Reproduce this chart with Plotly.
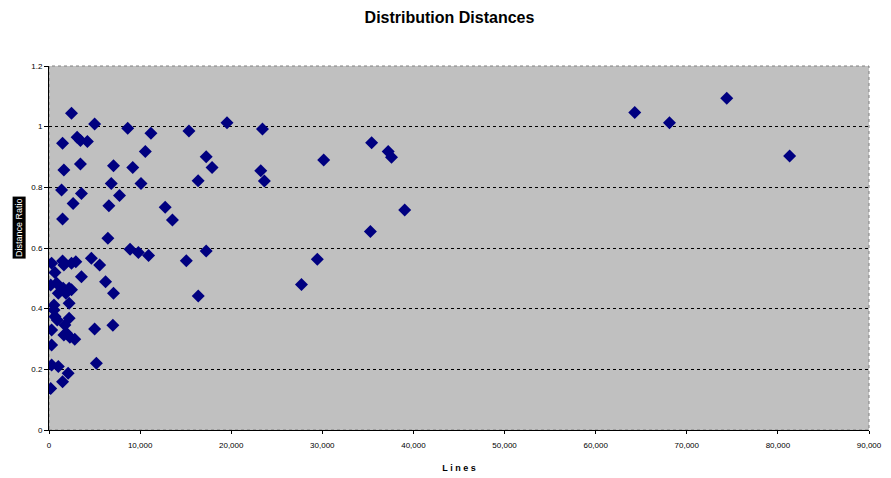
import plotly.graph_objects as go

lines = [185, 1490, 2100, 290, 1020, 5200, 290, 2830, 2290, 1630,
         1930, 290, 5010, 7010, 1740, 905, 2210, 650, 545, 545,
         2210, 1020, 1850, 7080, 2470, 1560, 2210, 185, 840, 6210,
         3560, 650, 1630, 5560, 290, 2470, 1490, 2940, 4650, 10930,
         9810, 8900, 17250, 15070, 16380, 27710, 29450, 6460, 35270, 13550,
         1490, 6570, 12750, 39040, 2650, 7740, 3560, 1380, 6830, 10100,
         16370, 23640, 23240, 1630, 9190, 17900, 7080, 3450, 30150, 37590,
         17250, 81290, 10570, 37230, 1490, 35410, 4210, 3450, 3090, 11190,
         15360, 8640, 23430, 5010, 68100, 19540, 2470, 64290, 74390]
ratio = [0.137, 0.159, 0.187, 0.214, 0.209, 0.220, 0.280, 0.299, 0.306, 0.313,
         0.319, 0.330, 0.333, 0.345, 0.346, 0.363, 0.368, 0.374, 0.396, 0.412,
         0.418, 0.451, 0.451, 0.451, 0.462, 0.467, 0.467, 0.478, 0.484, 0.489,
         0.505, 0.519, 0.544, 0.544, 0.550, 0.550, 0.557, 0.555, 0.566, 0.575,
         0.585, 0.596, 0.590, 0.558, 0.442, 0.480, 0.563, 0.632, 0.654, 0.692,
         0.696, 0.739, 0.734, 0.725, 0.747, 0.773, 0.780, 0.791, 0.813, 0.813,
         0.822, 0.821, 0.855, 0.857, 0.865, 0.865, 0.871, 0.877, 0.890, 0.899,
         0.901, 0.903, 0.918, 0.918, 0.945, 0.947, 0.951, 0.954, 0.965, 0.978,
         0.986, 0.995, 0.992, 1.009, 1.013, 1.013, 1.044, 1.047, 1.094]

fig = go.Figure(go.Scatter(
    x=lines, y=ratio, mode="markers",
    marker=dict(symbol="diamond", size=10, color="#000080",
                line=dict(width=0)),
))

font = "Liberation Sans, Arial, sans-serif"
fig.update_layout(
    width=883, height=470,
    margin=dict(l=41, r=22, t=58, b=48),
    paper_bgcolor="white", plot_bgcolor="#C0C0C0",
    showlegend=False,
    font=dict(family=font, size=8, color="black"),
    title=dict(text="<b>Distribution Distances</b>", x=0.5, xanchor="center",
               y=1 - 9 / 470, yanchor="middle", font=dict(family=font, size=16)),
    xaxis=dict(range=[0, 90000], dtick=10000, tickformat=",d", automargin=False,
               showgrid=False, zeroline=False, showline=True,
               linecolor="black", linewidth=1, ticks="outside", ticklen=3,
               tickcolor="black", mirror=False, ticklabelstandoff=4,
               title=dict(text="<b>L i n e s</b>", standoff=16,
                          font=dict(family=font, size=9))),
    yaxis=dict(range=[0, 1.2], dtick=0.2, showgrid=True, gridcolor="black",
               griddash="dot", gridwidth=1, zeroline=False, showline=True,
               automargin=False,
               linecolor="black", linewidth=1, ticks="outside", ticklen=4,
               tickcolor="black"),
)

# plot area border
fig.add_shape(type="rect", xref="paper", yref="paper", x0=0, y0=0, x1=1, y1=1,
              line=dict(color="#808080", width=1, dash="dot"), layer="below")

fig.add_annotation(text="Distance Ratio", xref="paper", yref="paper",
                   x=-0.045, y=0.555, textangle=-90, showarrow=False,
                   bgcolor="black", font=dict(family=font, size=9, color="white"))

fig.write_html("out.html")
